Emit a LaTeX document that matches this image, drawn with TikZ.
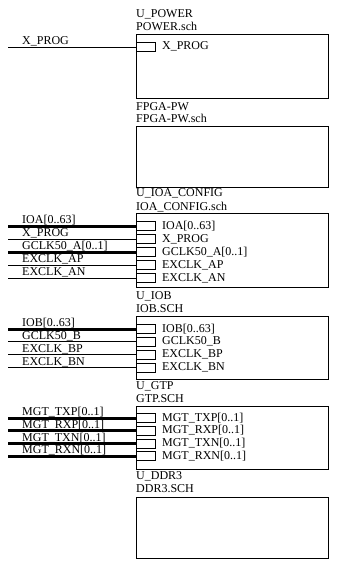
\documentclass[tikz,border=0pt]{standalone}
\usepackage{fontspec}
\setmainfont{Liberation Serif}
\usepackage{tikz}
\usetikzlibrary{positioning}

\begin{document}
\begin{tikzpicture}[x=1pt, y=-1pt,
  sheet/.style={rectangle, draw=black, line width=1.1pt, anchor=north west,
                minimum width=192pt, inner sep=0pt},
  port/.style={rectangle, draw=black, line width=0.8pt, minimum width=19pt,
               minimum height=9pt, inner sep=0pt},
  ptxt/.style={font=\fontsize{12}{14}\selectfont, inner sep=0pt,
               text height=8.5pt, text depth=2.5pt, anchor=west},
  wlbl/.style={font=\fontsize{12}{14}\selectfont, inner sep=0pt,
               anchor=base west, yshift=2.5pt},
  slbl/.style={font=\fontsize{12}{14}\selectfont, inner sep=0pt, anchor=base west},
  wire/.style={line width=0.8pt},
  bus/.style={line width=3pt}
]
\useasboundingbox (0,0) rectangle (338,564);
% sheet symbols
\node[sheet, minimum height=64pt] (power) at (136,34) {};
\node[sheet, minimum height=61pt] (fpgapw) at (136,126) {};
\node[sheet, minimum height=74pt] (ioa) at (136,213) {};
\node[sheet, minimum height=63pt] (iob) at (136,316) {};
\node[sheet, minimum height=63pt] (gtp) at (136,406) {};
\node[sheet, minimum height=61pt] (ddr) at (136,497) {};
% sheet names
\node[slbl] (powername) at (136,18) {U\_POWER};
\node[slbl] (powerfile) at (136,31) {POWER.sch};
\node[slbl] (fpgapwname) at (136,111) {FPGA-PW};
\node[slbl] (fpgapwfile) at (136,123) {FPGA-PW.sch};
\node[slbl] (ioaname) at (136,196) {U\_IOA\_CONFIG};
\node[slbl] (ioafile) at (136,210) {IOA\_CONFIG.sch};
\node[slbl] (iobname) at (136,299) {U\_IOB};
\node[slbl] (iobfile) at (136,312.5) {IOB.SCH};
\node[slbl] (gtpname) at (136,389) {U\_GTP};
\node[slbl] (gtpfile) at (136,402.5) {GTP.SCH};
\node[slbl] (ddrname) at (136,479) {U\_DDR3};
\node[slbl] (ddrfile) at (136,492) {DDR3.SCH};
% U_POWER
\coordinate (w1) at (8,47); \node[port] (p1) at (145.5,47) {};
\node[ptxt, right=6.5pt of p1] (t1) {X\_PROG}; \node[wlbl] (l1) at (22,47) {X\_PROG};
\draw[wire] (w1) -- (p1);
% U_IOA_CONFIG
\coordinate (wA1) at (8,226); \node[port] (pA1) at (145.5,226) {};
\node[ptxt, right=6.5pt of pA1] (tA1) {IOA[0..63]}; \node[wlbl] (lA1) at (22,226) {IOA[0..63]};
\coordinate (wA2) at (8,239); \node[port] (pA2) at (145.5,239) {};
\node[ptxt, right=6.5pt of pA2] (tA2) {X\_PROG}; \node[wlbl] (lA2) at (22,239) {X\_PROG};
\coordinate (wA3) at (8,252); \node[port] (pA3) at (145.5,252) {};
\node[ptxt, right=6.5pt of pA3] (tA3) {GCLK50\_A[0..1]}; \node[wlbl] (lA3) at (22,252) {GCLK50\_A[0..1]};
\coordinate (wA4) at (8,265); \node[port] (pA4) at (145.5,265) {};
\node[ptxt, right=6.5pt of pA4] (tA4) {EXCLK\_AP}; \node[wlbl] (lA4) at (22,265) {EXCLK\_AP};
\coordinate (wA5) at (8,278); \node[port] (pA5) at (145.5,278) {};
\node[ptxt, right=6.5pt of pA5] (tA5) {EXCLK\_AN}; \node[wlbl] (lA5) at (22,278) {EXCLK\_AN};
\draw[bus] (wA1) -- (pA1); \draw[wire] (wA2) -- (pA2);
\draw[bus] (wA3) -- (pA3); \draw[wire] (wA4) -- (pA4);
\draw[wire] (wA5) -- (pA5);
% U_IOB
\coordinate (wB1) at (8,329); \node[port] (pB1) at (145.5,329) {};
\node[ptxt, right=6.5pt of pB1] (tB1) {IOB[0..63]}; \node[wlbl] (lB1) at (22,329) {IOB[0..63]};
\coordinate (wB2) at (8,341.5); \node[port] (pB2) at (145.5,341.5) {};
\node[ptxt, right=6.5pt of pB2] (tB2) {GCLK50\_B}; \node[wlbl] (lB2) at (22,341.5) {GCLK50\_B};
\coordinate (wB3) at (8,354.5); \node[port] (pB3) at (145.5,354.5) {};
\node[ptxt, right=6.5pt of pB3] (tB3) {EXCLK\_BP}; \node[wlbl] (lB3) at (22,354.5) {EXCLK\_BP};
\coordinate (wB4) at (8,367.5); \node[port] (pB4) at (145.5,367.5) {};
\node[ptxt, right=6.5pt of pB4] (tB4) {EXCLK\_BN}; \node[wlbl] (lB4) at (22,367.5) {EXCLK\_BN};
\draw[bus] (wB1) -- (pB1); \draw[wire] (wB2) -- (pB2);
\draw[wire] (wB3) -- (pB3); \draw[wire] (wB4) -- (pB4);
% U_GTP
\coordinate (wG1) at (8,418); \node[port] (pG1) at (145.5,418) {};
\node[ptxt, right=6.5pt of pG1] (tG1) {MGT\_TXP[0..1]}; \node[wlbl] (lG1) at (22,418) {MGT\_TXP[0..1]};
\coordinate (wG2) at (8,430.5); \node[port] (pG2) at (145.5,430.5) {};
\node[ptxt, right=6.5pt of pG2] (tG2) {MGT\_RXP[0..1]}; \node[wlbl] (lG2) at (22,430.5) {MGT\_RXP[0..1]};
\coordinate (wG3) at (8,443.5); \node[port] (pG3) at (145.5,443.5) {};
\node[ptxt, right=6.5pt of pG3] (tG3) {MGT\_TXN[0..1]}; \node[wlbl] (lG3) at (22,443.5) {MGT\_TXN[0..1]};
\coordinate (wG4) at (8,456) ; \node[port] (pG4) at (145.5,456) {};
\node[ptxt, right=6.5pt of pG4] (tG4) {MGT\_RXN[0..1]}; \node[wlbl] (lG4) at (22,456) {MGT\_RXN[0..1]};
\draw[bus] (wG1) -- (pG1); \draw[bus] (wG2) -- (pG2);
\draw[bus] (wG3) -- (pG3); \draw[bus] (wG4) -- (pG4);
\end{tikzpicture}
\end{document}
